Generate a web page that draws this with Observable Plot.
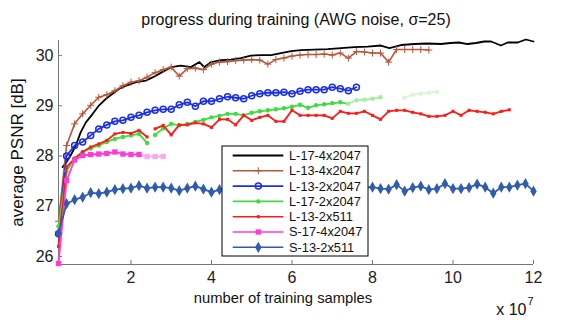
<!DOCTYPE html>
<html><head><meta charset="utf-8">
<script src="https://cdn.jsdelivr.net/npm/d3@7"></script>
<script src="https://cdn.jsdelivr.net/npm/@observablehq/plot@0.6"></script>
<style>
body{margin:0;background:#fff;}
#chart svg{font-family:"Liberation Sans",Arial,Helvetica,sans-serif;overflow:visible;}
</style>
</head><body><div id="chart"></div>
<script>
// ---------- texts ----------
const title = "progress during training (AWG noise, σ=25)";
const xLabel = "number of training samples";
const yLabel = "average PSNR [dB]";
const xMultiplier = "x 10";
const xExponent = "7";
const xTicks = [2, 4, 6, 8, 10, 12];
const yTicks = [26, 27, 28, 29, 30];
const seriesNames = ["L-17-4x2047", "L-13-4x2047", "L-13-2x2047", "L-17-2x2047", "L-13-2x511", "S-17-4x2047", "S-13-2x511"];

// ---------- data (x in units of 1e7 samples) ----------
const sampleStep = 0.2; // snapshots every 2e6 samples
const blackX = [0.3,0.4,0.5,0.63,0.75,0.88,1.05,1.21,1.38,1.54,1.71,1.88,2.13,2.37,2.55,2.75,3.0,3.24,3.49,3.70,3.82,3.99,4.24,4.48,4.73,4.98,5.23,5.48,5.73,5.98,6.22,6.55,6.89,7.22,7.55,7.88,8.21,8.42,8.71,9.04,9.37,9.70,9.94,10.15,10.36,10.57,10.78,10.95,11.19,11.36,11.61,11.81,12.0];
const blackY = [27.78,27.88,28.01,28.21,28.47,28.67,28.84,29.01,29.14,29.24,29.34,29.40,29.47,29.50,29.57,29.66,29.77,29.80,29.77,29.87,29.77,29.87,29.91,29.92,29.95,30.0,30.01,30.01,30.05,30.09,30.11,30.12,30.13,30.15,30.17,30.18,30.20,30.15,30.21,30.23,30.24,30.23,30.25,30.26,30.23,30.25,30.28,30.28,30.20,30.26,30.26,30.32,30.28];
const brownStart = 0.2;
const brownY = [26.70,28.21,28.64,28.84,29.01,29.17,29.22,29.30,29.40,29.47,29.50,29.57,29.66,29.72,29.77,29.59,29.74,29.75,29.72,29.83,29.87,29.88,29.90,29.91,29.92,29.91,29.83,29.92,29.95,29.99,30.01,30.02,30.02,30.03,30.01,30.05,29.95,30.08,30.07,30.05,30.05,29.87,30.12,30.12,30.12,30.12,30.11];
const blueStart = 0.2;
const blueY = [26.45,28.00,28.21,28.28,28.41,28.54,28.62,28.69,28.71,28.77,28.81,28.87,28.91,28.93,28.93,29.02,29.07,28.99,29.09,29.09,29.14,29.18,29.16,29.14,29.20,29.24,29.26,29.26,29.27,29.24,29.29,29.32,29.32,29.32,29.37,29.34,29.30,29.37];
const greenStart1 = 0.2;
const greenY1 = [26.60,27.70,27.95,28.08,28.15,28.21,28.28,28.34,28.38,28.41,28.44,28.26];
const greenStart2 = 2.6;
const greenY2 = [28.42,28.55,28.64,28.61,28.64,28.68,28.72,28.77,28.80,28.84,28.84,28.81,28.86,28.89,28.91,28.93,28.95,28.98,29.02,28.96,29.01,29.03,29.05,29.07,29.04,29.11,29.12,29.14,29.17];
const greenStart3 = 8.8;
const greenY3 = [29.16,29.22,29.24,29.26,29.28];
const redStart1 = 0.2;
const redY1 = [26.20,27.78,27.95,28.08,28.18,28.24,28.31,28.44,28.47,28.45,28.51,28.38];
const redStart2 = 2.6;
const redY2 = [28.54,28.61,28.42,28.62,28.62,28.66,28.64,28.57,28.73,28.73,28.62,28.81,28.71,28.77,28.81,28.69,28.69,28.91,28.81,28.81,28.81,28.81,28.75,28.89,28.85,28.85,28.89,28.81,28.73,28.89,28.91,28.91,28.87,28.84,28.79,28.79,28.81,28.89,28.81,28.91,28.89,28.87,28.84,28.89,28.92];
const magentaStart = 0.2;
const magentaY = [25.86,27.51,27.92,28.01,28.03,28.04,28.05,28.08,28.04,28.03,28.03,27.99,27.99,27.99];
const diamondStart = 0.2;
const diamondY = [26.46,27.05,27.13,27.18,27.27,27.25,27.28,27.33,27.35,27.36,27.41,27.36,27.38,27.38,27.36,27.31,27.36,27.40,27.34,27.28,27.33,27.35,27.38,27.33,27.36,27.40,27.34,27.37,27.32,27.36,27.39,27.35,27.33,27.38,27.36,27.34,27.39,27.35,27.37,27.38,27.35,27.34,27.43,27.30,27.37,27.40,27.33,27.35,27.45,27.35,27.35,27.37,27.44,27.38,27.26,27.38,27.38,27.42,27.45,27.30];

// ---------- build tables ----------
const rows = (x0, ys) => ys.map((y, i) => ({x: +(x0 + i * sampleStep).toFixed(3), y}));
const black = blackX.map((x, i) => ({x, y: blackY[i]}));
const brown = rows(brownStart, brownY);
const blue = rows(blueStart, blueY);
const green1 = rows(greenStart1, greenY1);
const green2 = rows(greenStart2, greenY2);
const green3 = rows(greenStart3, greenY3);
const red1 = rows(redStart1, redY1);
const red2 = rows(redStart2, redY2);
const magenta = rows(magentaStart, magentaY);
const diamond = rows(diamondStart, diamondY);

// ---------- styles ----------
const C = {
  black: "#000000", brown: "#b5573b", blue: "#1c2fe8", green: "#3fdc3f",
  red: "#ff1a1a", magenta: "#ff3ad8", diamond: "#2f5caf",
  greenFade: "#a6ec9e", greenLight: "#d8f7d2", magentaLight: "#f9a9ee"
};
const greenFadeFrom = 7.4, magentaFadeFrom = 2.2;
const xDomain = [0.2, 12], yDomain = [25.84, 30.30];
const FONT = 16;

const plot = Plot.plot({
  width: 567, height: 328,
  marginLeft: 58, marginRight: 34, marginTop: 40, marginBottom: 64,
  style: {fontSize: FONT + "px", color: "#222", background: "white"},
  x: {domain: xDomain},
  y: {domain: yDomain},
  marks: [
    Plot.ruleY([yDomain[0]], {stroke: "#777", strokeWidth: 1}),
    Plot.ruleX([xDomain[0]], {stroke: "#777", strokeWidth: 1}),
    Plot.axisX(xTicks, {tickSize: -4, tickPadding: 11, label: null, tickFormat: d => String(d), stroke: "#777", fill: "#222", fontSize: FONT}),
    Plot.axisY(yTicks, {tickSize: -4, tickPadding: 9, label: null, tickFormat: d => String(d), stroke: "#777", fill: "#222", fontSize: FONT}),
    // L-17-4x2047
    Plot.line(black, {x: "x", y: "y", stroke: C.black, strokeWidth: 1.8}),
    // L-13-4x2047
    Plot.line(brown, {x: "x", y: "y", stroke: C.brown, strokeWidth: 1.6}),
    Plot.dot(brown, {x: "x", y: "y", symbol: "plus", r: 2.4, stroke: C.brown, strokeWidth: 1}),
    // L-13-2x2047
    Plot.line(blue, {x: "x", y: "y", stroke: C.blue, strokeWidth: 1.8}),
    Plot.dot(blue, {x: "x", y: "y", symbol: "circle", r: 3, stroke: C.blue, strokeWidth: 1.5, fill: "none"}),
    // L-17-2x2047
    Plot.line(green1, {x: "x", y: "y", stroke: C.green, strokeWidth: 1.8}),
    Plot.line(green2.filter(d => d.x <= greenFadeFrom), {x: "x", y: "y", stroke: C.green, strokeWidth: 1.8}),
    Plot.line(green2.filter(d => d.x >= greenFadeFrom), {x: "x", y: "y", stroke: C.greenFade, strokeWidth: 1.8}),
    Plot.line(green3, {x: "x", y: "y", stroke: C.greenLight, strokeWidth: 1.8}),
    Plot.dot(green1.concat(green2.filter(d => d.x < greenFadeFrom)), {x: "x", y: "y", r: 2.2, fill: C.green}),
    Plot.dot(green2.filter(d => d.x >= greenFadeFrom), {x: "x", y: "y", r: 2.2, fill: C.greenFade}),
    Plot.dot(green3, {x: "x", y: "y", r: 2.2, fill: C.greenLight}),
    // L-13-2x511
    Plot.line(red1, {x: "x", y: "y", stroke: C.red, strokeWidth: 1.8}),
    Plot.line(red2, {x: "x", y: "y", stroke: C.red, strokeWidth: 1.8}),
    Plot.dot(red1.concat(red2), {x: "x", y: "y", symbol: "square", r: 1.7, fill: C.red}),
    // S-17-4x2047
    Plot.line(magenta.filter(d => d.x <= magentaFadeFrom), {x: "x", y: "y", stroke: C.magenta, strokeWidth: 1.8}),
    Plot.line(magenta.filter(d => d.x >= magentaFadeFrom), {x: "x", y: "y", stroke: C.magentaLight, strokeWidth: 1.8}),
    Plot.dot(magenta.filter(d => d.x <= magentaFadeFrom), {x: "x", y: "y", symbol: "square", r: 3, fill: C.magenta}),
    Plot.dot(magenta.filter(d => d.x > magentaFadeFrom), {x: "x", y: "y", symbol: "square", r: 3, fill: C.magentaLight}),
    // S-13-2x511
    Plot.line(diamond, {x: "x", y: "y", stroke: C.diamond, strokeWidth: 1.8}),
    Plot.dot(diamond, {x: "x", y: "y", symbol: "diamond", r: 3.4, fill: C.diamond}),
    // texts
    Plot.text([title], {text: d => d, frameAnchor: "top", textAnchor: "middle", lineAnchor: "middle", dy: -21, fontSize: 16, fill: "#111"}),
    Plot.text([xLabel], {text: d => d, frameAnchor: "bottom", textAnchor: "middle", lineAnchor: "middle", dx: -13, dy: 34, fontSize: 14.8, fill: "#111"}),
    Plot.text([yLabel], {text: d => d, frameAnchor: "left", textAnchor: "middle", lineAnchor: "middle", dx: -41, rotate: -90, fontSize: 17, fill: "#111"}),
    Plot.text([xMultiplier], {text: d => d, frameAnchor: "bottom-right", textAnchor: "end", lineAnchor: "middle", dx: -7, dy: 45, fontSize: FONT, fill: "#111"}),
    Plot.text([xExponent], {text: d => d, frameAnchor: "bottom-right", textAnchor: "start", lineAnchor: "middle", dx: -6, dy: 37, fontSize: 11, fill: "#111"})
  ]
});
document.getElementById("chart").appendChild(plot);

// ---------- legend (inside the axes, drawn in pixel space) ----------
const legendStyles = [
  {color: C.black, symbol: null},
  {color: C.brown, symbol: d3.symbolPlus, r: 2.4, filled: false, sw: 1},
  {color: C.blue, symbol: d3.symbolCircle, r: 3, filled: false, sw: 1.5},
  {color: C.green, symbol: d3.symbolCircle, r: 2.2, filled: true},
  {color: C.red, symbol: d3.symbolSquare, r: 1.7, filled: true},
  {color: C.magenta, symbol: d3.symbolSquare, r: 3, filled: true},
  {color: C.diamond, symbol: d3.symbolDiamond, r: 3.4, filled: true}
];
const svg = d3.select(plot);
const lg = svg.append("g").attr("transform", "translate(222,146)");
lg.append("rect").attr("width", 146).attr("height", 110).attr("fill", "white").attr("stroke", "#000").attr("stroke-width", 1);
seriesNames.forEach((name, i) => {
  const s = legendStyles[i];
  const yy = 9.5 + i * 15.3;
  lg.append("line").attr("x1", 10.7).attr("x2", 61.3).attr("y1", yy).attr("y2", yy)
    .attr("stroke", s.color).attr("stroke-width", i === 0 ? 1.8 : 1.6);
  if (s.symbol) {
    lg.append("path").attr("transform", `translate(36.3,${yy})`)
      .attr("d", d3.symbol(s.symbol, s.r * s.r * Math.PI)())
      .attr("fill", s.filled ? s.color : "none")
      .attr("stroke", s.filled ? "none" : s.color)
      .attr("stroke-width", s.sw || 1);
  }
  lg.append("text").attr("x", 67).attr("y", yy).attr("dy", "0.35em")
    .attr("text-anchor", "start").attr("font-size", 12.8).attr("fill", "#111").text(name);
});
</script>
</body></html>
